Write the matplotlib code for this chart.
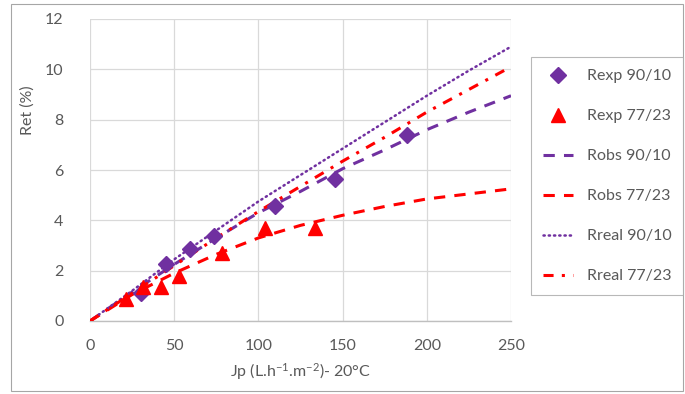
import matplotlib
matplotlib.use('Agg')
import matplotlib.pyplot as plt
from matplotlib.patches import Rectangle

# police proche de Calibri
plt.rcParams['font.family'] = ['Lato', 'DejaVu Sans']
plt.rcParams['mathtext.fontset'] = 'custom'
plt.rcParams['mathtext.rm'] = 'Lato'
plt.rcParams['mathtext.it'] = 'Lato:italic'
plt.rcParams['mathtext.bf'] = 'Lato:bold'

# points experimentaux
jp_exp_90 = [30.3, 45.1, 59.4, 73.4, 109.9, 145.7, 188.2]
ret_exp_90 = [1.13, 2.26, 2.85, 3.39, 4.55, 5.65, 7.39]
jp_exp_77 = [21.4, 31.7, 42.0, 52.9, 78.6, 103.9, 133.6]
ret_exp_77 = [0.88, 1.34, 1.34, 1.79, 2.72, 3.69, 3.69]

# courbes
jp_curve = [0, 25, 50, 75, 100, 125, 150, 175, 200, 225, 250]
robs_90 = [0, 1.15, 2.25, 3.3, 4.3, 5.15, 6.05, 6.8, 7.6, 8.3, 8.95]
robs_77 = [0, 1.05, 1.9, 2.65, 3.3, 3.8, 4.2, 4.55, 4.85, 5.05, 5.25]
rreal_90 = [0, 1.2, 2.45, 3.6, 4.75, 5.8, 6.85, 7.9, 8.95, 9.95, 10.9]
rreal_77 = [0, 1.1, 2.2, 3.3, 4.35, 5.35, 6.35, 7.3, 8.3, 9.2, 10.1]

purple = '#7030A0'
red = '#FF0000'
text_color = '#595959'
grid_color = '#D9D9D9'

fig = plt.figure(figsize=(6.85, 3.94), dpi=100)
ax = fig.add_axes([90 / 685, 1 - 321 / 394, 421 / 685, 302 / 394])

# courbes
ax.plot(jp_curve, robs_90, color=purple, lw=2.2, dashes=(3.7, 3), label='Robs 90/10', zorder=3)
ax.plot(jp_curve, robs_77, color=red, lw=2.2, dashes=(3.7, 3), label='Robs 77/23', zorder=3)
ax.plot(jp_curve, rreal_90, color=purple, lw=1.8, dashes=(0.5, 1.6), dash_capstyle='round',
        label='Rreal 90/10', zorder=3)
ax.plot(jp_curve, rreal_77, color=red, lw=2.2, dashes=(3.3, 2.7, 1, 2.7), label='Rreal 77/23', zorder=3)

# points
ax.plot(jp_exp_90, ret_exp_90, 'D', color=purple, ms=8.5, label='Rexp 90/10', zorder=4)
ax.plot(jp_exp_77, ret_exp_77, '^', color=red, ms=9.5, label='Rexp 77/23', zorder=5)

ax.set_xlim(0, 250)
ax.set_ylim(0, 12)
ax.set_xticks(range(0, 251, 50))
ax.set_yticks(range(0, 13, 2))
ax.grid(True, color=grid_color, lw=0.9)
ax.set_axisbelow(True)
for side in ['left', 'right', 'top']:
    ax.spines[side].set_visible(False)
ax.spines['bottom'].set_color('#BFBFBF')
ax.spines['bottom'].set_linewidth(1.0)
ax.tick_params(axis='both', length=0, labelsize=11.5, labelcolor=text_color)
ax.tick_params(axis='y', pad=19)
ax.tick_params(axis='x', pad=13)

fig.text(300 / 685, 1 - 372 / 394, 'Jp (L.h$^{-1}$.m$^{-2}$)- 20°C', ha='center', va='center',
         fontsize=11.5, color=text_color)
fig.text(28 / 685, 1 - 110 / 394, 'Ret (%)', rotation=90, ha='center', va='center',
         fontsize=11.5, color=text_color)

# legende dans l'ordre d'Excel
handles, labels = ax.get_legend_handles_labels()
order = [4, 5, 0, 1, 2, 3]
leg = fig.legend([handles[i] for i in order], [labels[i] for i in order],
                 loc='upper left', bbox_to_anchor=(531 / 685, 1 - 297 / 394, (683 - 531) / 685, 240 / 394),
                 mode='expand', fontsize=11.5, labelspacing=1.62, handlelength=1.9,
                 handletextpad=0.85, borderpad=0.75, borderaxespad=0, frameon=True, fancybox=False)
leg.get_frame().set_edgecolor('#A6A6A6')
leg.get_frame().set_linewidth(0.8)
for t in leg.get_texts():
    t.set_color(text_color)

# cadre du graphique
fig.patches.append(Rectangle((11 / 685, 1 - 391 / 394), 672 / 685, 387 / 394, transform=fig.transFigure,
                             fill=False, edgecolor='#A6A6A6', lw=0.8))

fig.savefig('out.png', dpi=100)
